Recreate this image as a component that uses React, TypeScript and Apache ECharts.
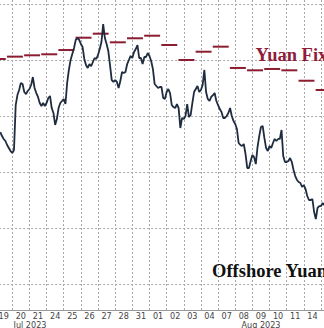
import React, { useEffect, useRef } from 'react';
import * as echarts from 'echarts';

// Trading days shown on the x axis (Jul 19 2023 .. Aug 15 2023)
const dayLabels = ['19', '20', '21', '24', '25', '26', '27', '28', '31', '01', '02', '03', '04', '07', '08', '09', '10', '11', '14', '15'];
const monthLabels = ['Jul 2023', 'Aug 2023'];

// PBOC daily yuan fixing (USD/CNY), one per trading day above
const fixValues = [
  7.1491, 7.1470, 7.1458, 7.1449, 7.1411, 7.1301, 7.1265, 7.1342, 7.1306, 7.1283,
  7.1366, 7.1500, 7.1426, 7.1381, 7.1571, 7.1592, 7.1580, 7.1592, 7.1685, 7.1768,
];

// Offshore yuan (USD/CNH) sampled every 0.1 trading day, starting at day -0.2
const cnhStart = -0.2;
const cnhStep = 0.1;
const cnhValues = [
  7.2143, 7.2179, 7.2205, 7.2223, 7.2259, 7.2286, 7.2313, 7.2330, 7.2304, 7.1902,
  7.1813, 7.1768, 7.1705, 7.1714, 7.1786, 7.1804, 7.1777, 7.1759, 7.1723, 7.1652,
  7.1750, 7.1795, 7.1830, 7.1884, 7.1911, 7.1884, 7.1911, 7.1884, 7.1839, 7.1821,
  7.1929, 7.1973, 7.2080, 7.2027, 7.1929, 7.1884, 7.1866, 7.1848, 7.1893, 7.1705,
  7.1589, 7.1500, 7.1446, 7.1393, 7.1321, 7.1304, 7.1321, 7.1357, 7.1384, 7.1491,
  7.1545, 7.1571, 7.1536, 7.1554, 7.1518, 7.1482, 7.1491, 7.1455, 7.1402, 7.1339,
  7.1179, 7.1304, 7.1357, 7.1420, 7.1545, 7.1679, 7.1696, 7.1679, 7.1696, 7.1750,
  7.1688, 7.1607, 7.1616, 7.1607, 7.1536, 7.1500, 7.1464, 7.1482, 7.1429, 7.1402,
  7.1366, 7.1482, 7.1482, 7.1536, 7.1473, 7.1473, 7.1438, 7.1464, 7.1509, 7.1580,
  7.1714, 7.1732, 7.1750, 7.1741, 7.1741, 7.1839, 7.1848, 7.1786, 7.1759, 7.1795,
  7.1902, 7.1920, 7.1929, 7.1893, 7.1929, 7.2107, 7.2018, 7.2027, 7.2000, 7.1893,
  7.2009, 7.1991, 7.1884, 7.1786, 7.1759, 7.1732, 7.1786, 7.1768, 7.1723, 7.1589,
  7.1786, 7.1848, 7.1866, 7.1830, 7.1813, 7.1795, 7.1866, 7.1902, 7.1938, 7.1964,
  7.2018, 7.2018, 7.2000, 7.1973, 7.1929, 7.2000, 7.2045, 7.2071, 7.2116, 7.2241,
  7.2259, 7.2268, 7.2250, 7.2339, 7.2464, 7.2464, 7.2402, 7.2348, 7.2366, 7.2429,
  7.2277, 7.2179, 7.2098, 7.2089, 7.2196, 7.2286, 7.2313, 7.2268, 7.2286, 7.2241,
  7.2205, 7.2223, 7.2205, 7.2205, 7.2125, 7.2357, 7.2411, 7.2411, 7.2402, 7.2375,
  7.2411, 7.2482, 7.2536, 7.2571, 7.2589, 7.2598, 7.2634, 7.2616, 7.2652, 7.2714,
  7.2750, 7.2750, 7.2741, 7.2857, 7.2920, 7.2821, 7.2804, 7.2804, 7.2777, 7.2795,
];

const seriesNames = ['Yuan Fix', 'Offshore Yuan'];

const FIX_COLOR = '#8c1c30';
const LINE_COLOR = '#1f2c40';
const GRID_COLOR = '#a8a8a8';
const LABEL_FONT = '"Liberation Sans Narrow", "DejaVu Sans Condensed", "Liberation Sans", sans-serif';

export default function App() {
  const ref = useRef<HTMLDivElement>(null);

  useEffect(() => {
    if (!ref.current) return;
    const chart = echarts.init(ref.current, undefined, { renderer: 'svg' });

    const cnhData = cnhValues.map((v, i) => [+(cnhStart + i * cnhStep).toFixed(2), v]);
    const fixData = fixValues.map((v, i) => [i, v]);
    const lastVisibleLabel = dayLabels.length - 2; // the final day lies past the cropped right edge

    const option: any = {
      animation: false,
      backgroundColor: '#ffffff',
      grid: {
        left: -4.875,
        right: -14.125,
        top: -52,
        bottom: 18,
        containLabel: false,
        outerBoundsMode: 'none',
      },
      xAxis: [
        {
          type: 'category',
          data: dayLabels,
          boundaryGap: true,
          position: 'bottom',
          axisLine: { show: true, lineStyle: { color: '#9a9a9a', width: 1 } },
          axisTick: {
            show: true,
            interval: (index: number) => index === 9,
            length: 18,
            lineStyle: { color: '#666', width: 1 },
          },
          axisLabel: {
            show: true,
            interval: (index: number) => index <= lastVisibleLabel,
            margin: 1,
            color: '#444',
            fontSize: 9,
            fontFamily: LABEL_FONT,
          },
          splitLine: { show: true, interval: 0, lineStyle: { color: GRID_COLOR, type: [2, 2], width: 1 } },
        },
        {
          type: 'value',
          min: -0.5,
          max: 19.5,
          show: false,
          position: 'top',
          splitLine: { show: false },
        },
      ],
      yAxis: {
        type: 'value',
        inverse: true,
        min: 7.05,
        max: 7.3732,
        interval: 0.05,
        show: true,
        position: 'right',
        axisLine: { show: false },
        axisTick: { show: false },
        axisLabel: { show: false },
        splitLine: { show: true, lineStyle: { color: GRID_COLOR, type: [2, 2], width: 1 } },
      },
      series: [
        {
          name: seriesNames[0],
          type: 'custom',
          xAxisIndex: 1,
          yAxisIndex: 0,
          data: fixData,
          encode: { x: 0, y: 1 },
          z: 3,
          renderItem: (params: any, api: any) => {
            const d = api.value(0);
            const v = api.value(1);
            const p1 = api.coord([d - 0.81, v]);
            const p2 = api.coord([d + 0.12, v]);
            return {
              type: 'line',
              shape: { x1: p1[0], y1: p1[1], x2: p2[0], y2: p2[1] },
              style: { stroke: FIX_COLOR, lineWidth: 2 },
            };
          },
        },
        {
          name: seriesNames[1],
          type: 'line',
          xAxisIndex: 1,
          yAxisIndex: 0,
          data: cnhData,
          showSymbol: false,
          symbol: 'none',
          z: 4,
          lineStyle: { color: LINE_COLOR, width: 1.8 },
        },
      ],
      graphic: [
        {
          type: 'text',
          x: 255.5,
          y: 55,
          style: {
            text: seriesNames[0],
            fill: '#8e1c3a',
            font: 'bold 18.5px "Liberation Serif", "DejaVu Serif", serif',
            align: 'left',
            verticalAlign: 'middle',
          },
          z: 10,
        },
        {
          type: 'text',
          x: 212,
          y: 270.5,
          style: {
            text: seriesNames[1],
            fill: '#111111',
            font: 'bold 18.5px "Liberation Serif", "DejaVu Serif", serif',
            align: 'left',
            verticalAlign: 'middle',
          },
          z: 10,
        },
        {
          type: 'text',
          x: 30,
          y: 324.5,
          style: {
            text: monthLabels[0],
            fill: '#444',
            font: '9px ' + LABEL_FONT,
            align: 'center',
            verticalAlign: 'middle',
          },
        },
        {
          type: 'text',
          x: 261,
          y: 324.5,
          style: {
            text: monthLabels[1],
            fill: '#444',
            font: '9px ' + LABEL_FONT,
            align: 'center',
            verticalAlign: 'middle',
          },
        },
      ],
    };

    chart.setOption(option);
    return () => chart.dispose();
  }, []);

  return (
    <div
      ref={ref}
      style={{ position: 'fixed', left: 0, top: 0, width: 324, height: 328, background: '#fff' }}
    />
  );
}
